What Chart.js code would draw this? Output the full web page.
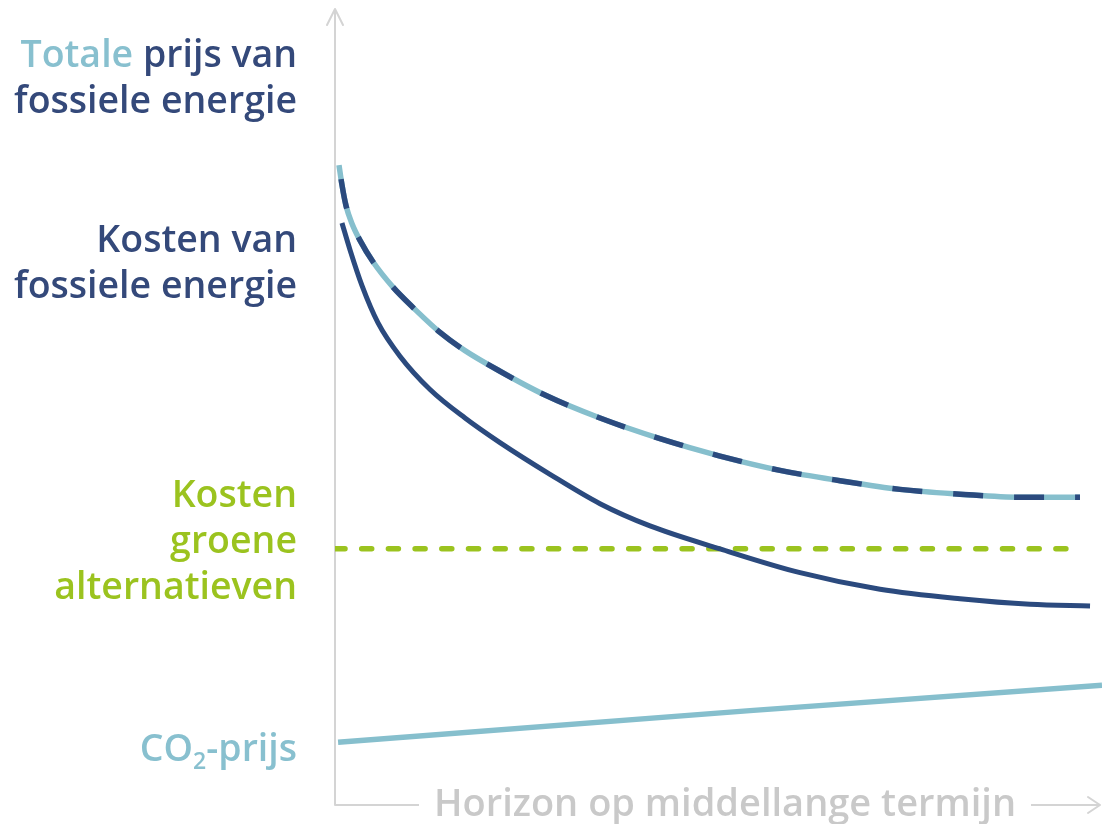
<!DOCTYPE html>
<html>
<head>
<meta charset="utf-8">
<script src="https://cdn.jsdelivr.net/npm/chart.js@4/dist/chart.umd.min.js"></script>
<style>
  html, body { margin: 0; padding: 0; background: #fff; }
  #wrap { position: relative; width: 1102px; height: 824px; overflow: hidden; font-family: "Open Sans", sans-serif; font-weight: 600; }
  canvas { position: absolute; left: 0; top: 0; }
  .lbl { position: absolute; right: 805px; text-align: right; font-size: 37.5px; line-height: 46px; white-space: nowrap; color: #34497a; }
  .green { color: #9bc31f; }
  .light { color: #88c0cf; }
  sub { font-size: 23px; line-height: 0; vertical-align: -8px; }
  #xtitle { position: absolute; left: 419px; top: 778px; padding: 0 15px; background: #fff; color: #c9c9c9; font-size: 38px; line-height: 46px; white-space: nowrap; }
</style>
</head>
<body>
<div id="wrap">
  <canvas id="chart" width="1102" height="824"></canvas>
  <div class="lbl" style="top:30px"><span class="light">Totale</span> prijs van<br>fossiele energie</div>
  <div class="lbl" style="top:215px">Kosten van<br>fossiele energie</div>
  <div class="lbl green" style="top:470px">Kosten<br>groene<br>alternatieven</div>
  <div class="lbl light" style="top:724px">CO<sub>2</sub>-prijs</div>
  <div id="xtitle">Horizon op middellange termijn</div>
</div>
<script>
// Brand colours
const COLORS = {
  navy: '#2b4a7e',
  light: '#86bfcd',
  green: '#9bc31f',
  axis: '#d4d4d4',
}

// ── Data (schematic units, 0–100 on both axes) ──

// Totale prijs van fossiele energie
const xTotal = [0.52, 0.91, 1.43, 2.22, 3.26, 4.95, 7.56, 10.43, 13.69, 16.95, 21.51, 27.38, 34.55, 42.37, 50.2, 58.02, 65.84, 73.66, 81.49, 89.31, 97.13]
const totalPrijs = [80.7, 78.2, 75.6, 73.3, 71.2, 68.5, 65.3, 62.5, 59.6, 57.3, 54.7, 51.7, 48.8, 46.2, 44.0, 42.2, 40.9, 39.8, 39.2, 38.8, 38.8]

// Kosten van fossiele energie
const xKosten = [0.91, 1.96, 3.52, 5.61, 8.47, 12.39, 16.95, 21.51, 28.03, 34.55, 41.07, 50.2, 60.63, 71.06, 81.49, 90.61, 98.44]
const kostenFossiel = [73.4, 70.0, 65.5, 60.8, 56.6, 52.4, 48.8, 45.7, 41.7, 38.0, 35.2, 32.3, 29.3, 27.2, 26.0, 25.3, 25.1]

// Kosten groene alternatieven
const xGroen = [0, 95.6]
const kostenGroen = [32.3, 32.3]

// CO2-prijs
const xCo2 = [0.4, 54.1, 100]
const co2Prijs = [7.9, 11.9, 15.1]

const pts = (xs, ys) => xs.map((x, i) => ({ x, y: ys[i] }))

// ── Axes with arrow heads ──

const arrowAxes = {
  id: 'arrowAxes',
  beforeDatasetsDraw(chart) {
    const { ctx, chartArea: a } = chart
    ctx.save()
    ctx.strokeStyle = COLORS.axis
    ctx.lineWidth = 2
    ctx.lineCap = 'round'
    ctx.lineJoin = 'round'
    ctx.beginPath()
    // y axis
    ctx.moveTo(a.left, a.bottom)
    ctx.lineTo(a.left, a.top - 3)
    ctx.moveTo(a.left - 8, a.top + 13)
    ctx.lineTo(a.left, a.top - 3)
    ctx.lineTo(a.left + 8, a.top + 13)
    // x axis
    ctx.moveTo(a.left, a.bottom)
    ctx.lineTo(a.right - 2, a.bottom)
    ctx.moveTo(a.right - 14, a.bottom - 8)
    ctx.lineTo(a.right - 2, a.bottom)
    ctx.lineTo(a.right - 14, a.bottom + 8)
    ctx.stroke()
    ctx.restore()
  },
}

// lower `order` is drawn on top
new Chart(document.getElementById('chart'), {
  type: 'line',
  data: {
    datasets: [
      {
        label: 'CO2-prijs',
        data: pts(xCo2, co2Prijs),
        borderColor: COLORS.light,
        borderWidth: 5.5,
        order: 5,
      },
      {
        label: 'Kosten groene alternatieven',
        data: pts(xGroen, kostenGroen),
        borderColor: COLORS.green,
        borderWidth: 5.5,
        borderDash: [10, 16.7],
        borderCapStyle: 'round',
        order: 4,
      },
      {
        label: 'Kosten van fossiele energie',
        data: pts(xKosten, kostenFossiel),
        borderColor: COLORS.navy,
        borderWidth: 5,
        cubicInterpolationMode: 'monotone',
        order: 3,
      },
      {
        label: 'Totale prijs (basis)',
        data: pts(xTotal, totalPrijs),
        borderColor: COLORS.light,
        borderWidth: 5.5,
        cubicInterpolationMode: 'monotone',
        order: 2,
      },
      {
        label: 'Totale prijs (streep)',
        data: pts(xTotal, totalPrijs),
        borderColor: COLORS.navy,
        borderWidth: 5.5,
        borderDash: [30, 31],
        borderDashOffset: 47,
        cubicInterpolationMode: 'monotone',
        order: 1,
      },
    ],
  },
  options: {
    responsive: false,
    animation: false,
    layout: { padding: { left: 335, right: 0, top: 12, bottom: 19 } },
    elements: { point: { radius: 0 } },
    plugins: { legend: { display: false }, tooltip: { enabled: false } },
    scales: {
      x: { type: 'linear', min: 0, max: 100, display: false },
      y: { min: 0, max: 100, display: false },
    },
  },
  plugins: [arrowAxes],
})
</script>
</body>
</html>
